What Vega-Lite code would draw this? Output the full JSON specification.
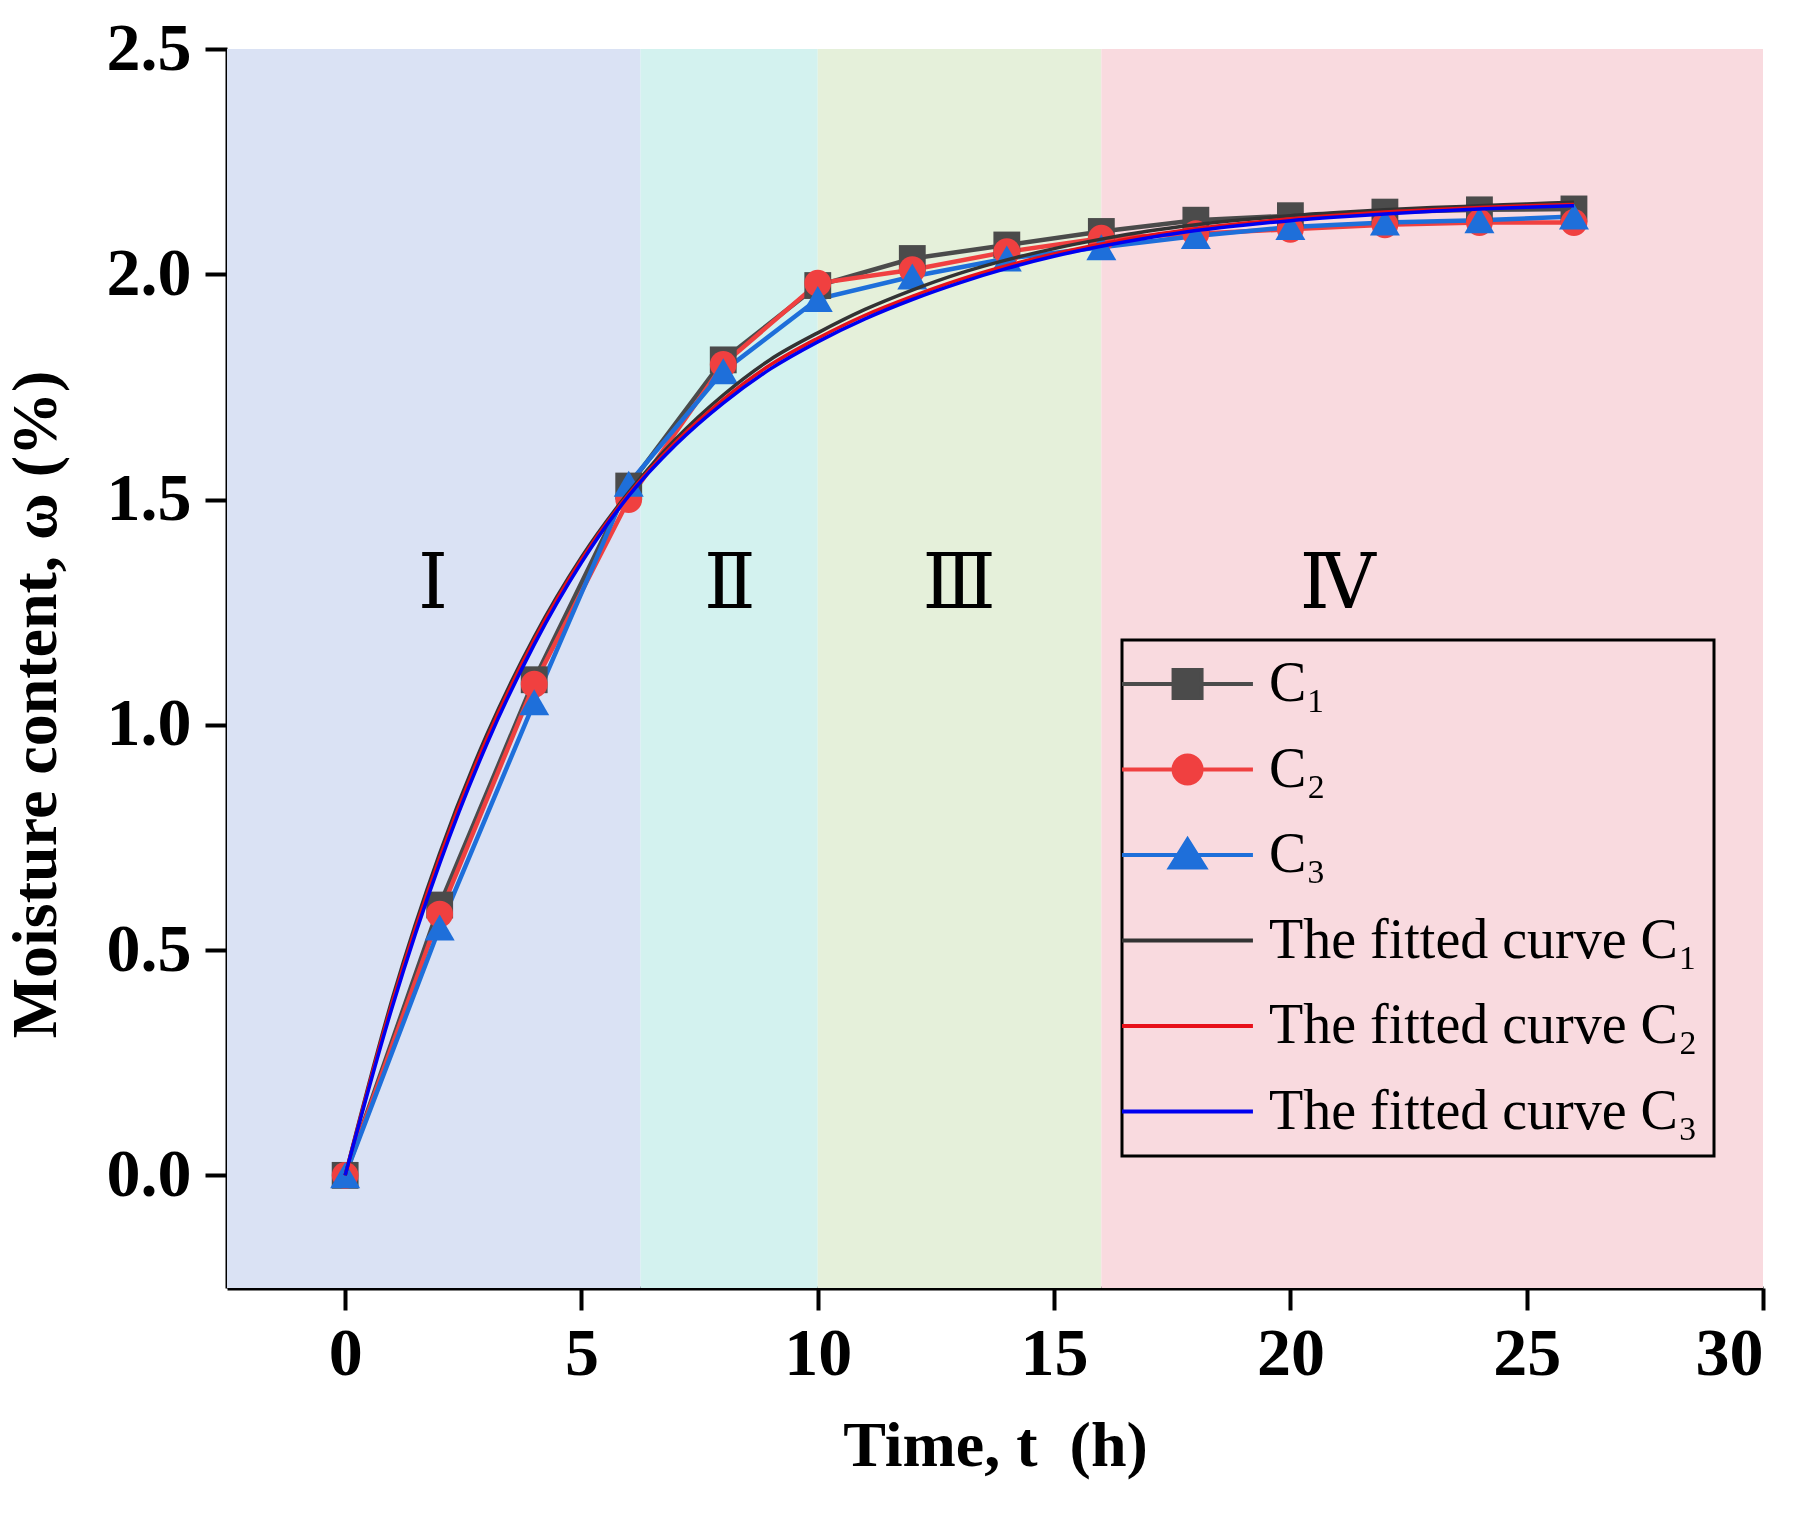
{
  "$schema": "https://vega.github.io/schema/vega-lite/v6.json",
  "width": 1536,
  "height": 1239,
  "autosize": {"type": "none"},
  "padding": {"left": 227, "top": 49, "right": 51, "bottom": 226},
  "background": "white",
  "config": {
    "view": {"stroke": null},
    "axis": {
      "grid": false,
      "domainColor": "black",
      "domainWidth": 4,
      "tickColor": "black",
      "tickWidth": 4,
      "tickSize": 22,
      "labelFont": "Liberation Serif",
      "labelFontWeight": "bold",
      "labelFontSize": 68,
      "labelColor": "black",
      "titleFont": "Liberation Serif",
      "titleFontWeight": "bold",
      "titleFontSize": 64,
      "titleColor": "black"
    },
    "legend": {"strokeWidth": 3}
  },
  "datasets": {
    "zones": [
      {"zone": "I", "start": -2.5, "end": 6.25},
      {"zone": "II", "start": 6.25, "end": 10},
      {"zone": "III", "start": 10, "end": 16},
      {"zone": "IV", "start": 16, "end": 30}
    ],
    "labels": [
      {"text": "Ⅰ", "t": 1.86, "w": 1.31},
      {"text": "Ⅱ", "t": 8.14, "w": 1.31},
      {"text": "Ⅲ", "t": 12.99, "w": 1.31},
      {"text": "Ⅳ", "t": 21.0, "w": 1.31}
    ],
    "measured": [
      {"series": "C₁", "t": 0, "w": 0},
      {"series": "C₁", "t": 2, "w": 0.60},
      {"series": "C₁", "t": 4, "w": 1.10},
      {"series": "C₁", "t": 6, "w": 1.53},
      {"series": "C₁", "t": 8, "w": 1.81},
      {"series": "C₁", "t": 10, "w": 1.975},
      {"series": "C₁", "t": 12, "w": 2.035},
      {"series": "C₁", "t": 14, "w": 2.065},
      {"series": "C₁", "t": 16, "w": 2.095},
      {"series": "C₁", "t": 18, "w": 2.12},
      {"series": "C₁", "t": 20, "w": 2.13},
      {"series": "C₁", "t": 22, "w": 2.138},
      {"series": "C₁", "t": 24, "w": 2.143},
      {"series": "C₁", "t": 26, "w": 2.145},
      {"series": "C₂", "t": 0, "w": 0},
      {"series": "C₂", "t": 2, "w": 0.58},
      {"series": "C₂", "t": 4, "w": 1.09},
      {"series": "C₂", "t": 6, "w": 1.50},
      {"series": "C₂", "t": 8, "w": 1.80},
      {"series": "C₂", "t": 10, "w": 1.98},
      {"series": "C₂", "t": 12, "w": 2.01},
      {"series": "C₂", "t": 14, "w": 2.05},
      {"series": "C₂", "t": 16, "w": 2.08},
      {"series": "C₂", "t": 18, "w": 2.09},
      {"series": "C₂", "t": 20, "w": 2.10},
      {"series": "C₂", "t": 22, "w": 2.11},
      {"series": "C₂", "t": 24, "w": 2.115},
      {"series": "C₂", "t": 26, "w": 2.115},
      {"series": "C₃", "t": 0, "w": 0},
      {"series": "C₃", "t": 2, "w": 0.55},
      {"series": "C₃", "t": 4, "w": 1.05},
      {"series": "C₃", "t": 6, "w": 1.535},
      {"series": "C₃", "t": 8, "w": 1.785},
      {"series": "C₃", "t": 10, "w": 1.945},
      {"series": "C₃", "t": 12, "w": 1.995},
      {"series": "C₃", "t": 14, "w": 2.035},
      {"series": "C₃", "t": 16, "w": 2.06},
      {"series": "C₃", "t": 18, "w": 2.085},
      {"series": "C₃", "t": 20, "w": 2.105},
      {"series": "C₃", "t": 22, "w": 2.115},
      {"series": "C₃", "t": 24, "w": 2.12},
      {"series": "C₃", "t": 26, "w": 2.128}
    ],
    "legendkeys": [
      {"series": "C₁"},
      {"series": "C₂"},
      {"series": "C₃"},
      {"series": "The fitted curve C₁"},
      {"series": "The fitted curve C₂"},
      {"series": "The fitted curve C₃"}
    ],
    "fitted": [
      {"series": "The fitted curve C₁", "t": 0, "w": 0},
      {"series": "The fitted curve C₁", "t": 1, "w": 0.393},
      {"series": "The fitted curve C₁", "t": 2, "w": 0.715},
      {"series": "The fitted curve C₁", "t": 3, "w": 0.979},
      {"series": "The fitted curve C₁", "t": 4, "w": 1.195},
      {"series": "The fitted curve C₁", "t": 5, "w": 1.372},
      {"series": "The fitted curve C₁", "t": 6, "w": 1.516},
      {"series": "The fitted curve C₁", "t": 7, "w": 1.635},
      {"series": "The fitted curve C₁", "t": 8, "w": 1.732},
      {"series": "The fitted curve C₁", "t": 9, "w": 1.811},
      {"series": "The fitted curve C₁", "t": 10, "w": 1.870},
      {"series": "The fitted curve C₁", "t": 11, "w": 1.922},
      {"series": "The fitted curve C₁", "t": 12, "w": 1.965},
      {"series": "The fitted curve C₁", "t": 13, "w": 2.002},
      {"series": "The fitted curve C₁", "t": 14, "w": 2.032},
      {"series": "The fitted curve C₁", "t": 15, "w": 2.057},
      {"series": "The fitted curve C₁", "t": 16, "w": 2.078},
      {"series": "The fitted curve C₁", "t": 17, "w": 2.096},
      {"series": "The fitted curve C₁", "t": 18, "w": 2.110},
      {"series": "The fitted curve C₁", "t": 19, "w": 2.121},
      {"series": "The fitted curve C₁", "t": 20, "w": 2.130},
      {"series": "The fitted curve C₁", "t": 21, "w": 2.137},
      {"series": "The fitted curve C₁", "t": 22, "w": 2.143},
      {"series": "The fitted curve C₁", "t": 23, "w": 2.148},
      {"series": "The fitted curve C₁", "t": 24, "w": 2.152},
      {"series": "The fitted curve C₁", "t": 25, "w": 2.156},
      {"series": "The fitted curve C₁", "t": 26, "w": 2.160},
      {"series": "The fitted curve C₂", "t": 0, "w": 0},
      {"series": "The fitted curve C₂", "t": 1, "w": 0.385},
      {"series": "The fitted curve C₂", "t": 2, "w": 0.705},
      {"series": "The fitted curve C₂", "t": 3, "w": 0.970},
      {"series": "The fitted curve C₂", "t": 4, "w": 1.188},
      {"series": "The fitted curve C₂", "t": 5, "w": 1.367},
      {"series": "The fitted curve C₂", "t": 6, "w": 1.512},
      {"series": "The fitted curve C₂", "t": 7, "w": 1.628},
      {"series": "The fitted curve C₂", "t": 8, "w": 1.722},
      {"series": "The fitted curve C₂", "t": 9, "w": 1.799},
      {"series": "The fitted curve C₂", "t": 10, "w": 1.858},
      {"series": "The fitted curve C₂", "t": 11, "w": 1.909},
      {"series": "The fitted curve C₂", "t": 12, "w": 1.951},
      {"series": "The fitted curve C₂", "t": 13, "w": 1.988},
      {"series": "The fitted curve C₂", "t": 14, "w": 2.019},
      {"series": "The fitted curve C₂", "t": 15, "w": 2.045},
      {"series": "The fitted curve C₂", "t": 16, "w": 2.067},
      {"series": "The fitted curve C₂", "t": 17, "w": 2.086},
      {"series": "The fitted curve C₂", "t": 18, "w": 2.101},
      {"series": "The fitted curve C₂", "t": 19, "w": 2.113},
      {"series": "The fitted curve C₂", "t": 20, "w": 2.123},
      {"series": "The fitted curve C₂", "t": 21, "w": 2.131},
      {"series": "The fitted curve C₂", "t": 22, "w": 2.138},
      {"series": "The fitted curve C₂", "t": 23, "w": 2.143},
      {"series": "The fitted curve C₂", "t": 24, "w": 2.148},
      {"series": "The fitted curve C₂", "t": 25, "w": 2.152},
      {"series": "The fitted curve C₂", "t": 26, "w": 2.155},
      {"series": "The fitted curve C₃", "t": 0, "w": 0},
      {"series": "The fitted curve C₃", "t": 1, "w": 0.375},
      {"series": "The fitted curve C₃", "t": 2, "w": 0.692},
      {"series": "The fitted curve C₃", "t": 3, "w": 0.958},
      {"series": "The fitted curve C₃", "t": 4, "w": 1.178},
      {"series": "The fitted curve C₃", "t": 5, "w": 1.360},
      {"series": "The fitted curve C₃", "t": 6, "w": 1.508},
      {"series": "The fitted curve C₃", "t": 7, "w": 1.622},
      {"series": "The fitted curve C₃", "t": 8, "w": 1.714},
      {"series": "The fitted curve C₃", "t": 9, "w": 1.790},
      {"series": "The fitted curve C₃", "t": 10, "w": 1.850},
      {"series": "The fitted curve C₃", "t": 11, "w": 1.901},
      {"series": "The fitted curve C₃", "t": 12, "w": 1.944},
      {"series": "The fitted curve C₃", "t": 13, "w": 1.981},
      {"series": "The fitted curve C₃", "t": 14, "w": 2.013},
      {"series": "The fitted curve C₃", "t": 15, "w": 2.040},
      {"series": "The fitted curve C₃", "t": 16, "w": 2.062},
      {"series": "The fitted curve C₃", "t": 17, "w": 2.081},
      {"series": "The fitted curve C₃", "t": 18, "w": 2.097},
      {"series": "The fitted curve C₃", "t": 19, "w": 2.109},
      {"series": "The fitted curve C₃", "t": 20, "w": 2.119},
      {"series": "The fitted curve C₃", "t": 21, "w": 2.127},
      {"series": "The fitted curve C₃", "t": 22, "w": 2.134},
      {"series": "The fitted curve C₃", "t": 23, "w": 2.140},
      {"series": "The fitted curve C₃", "t": 24, "w": 2.145},
      {"series": "The fitted curve C₃", "t": 25, "w": 2.149},
      {"series": "The fitted curve C₃", "t": 26, "w": 2.152}
    ]
  },
  "layer": [
    {
      "data": {"name": "zones"},
      "mark": {"type": "rect"},
      "encoding": {
        "x": {
          "field": "start",
          "type": "quantitative",
          "scale": {"domain": [-2.5, 30], "nice": false, "zero": false},
          "axis": {"values": [0, 5, 10, 15, 20, 25, 30], "title": "Time, t\u00a0\u00a0(h)", "labelPadding": 10, "titlePadding": 26, "format": "d"}
        },
        "x2": {"field": "end"},
        "fill": {
          "field": "zone",
          "type": "nominal",
          "scale": {"domain": ["I", "II", "III", "IV"], "range": ["#DAE2F4", "#D3F2EF", "#E5F0DA", "#F9DADF"]},
          "legend": null
        }
      }
    },
    {
      "data": {"name": "labels"},
      "mark": {"type": "text", "font": "DejaVu Serif", "fontSize": 76, "color": "black", "align": "center", "baseline": "middle"},
      "encoding": {
        "x": {"field": "t", "type": "quantitative"},
        "y": {
          "field": "w",
          "type": "quantitative",
          "scale": {"domain": [-0.25, 2.5], "nice": false, "zero": false},
          "axis": {"values": [0, 0.5, 1, 1.5, 2, 2.5], "format": ".1f", "title": "Moisture content, ω (%)", "labelPadding": 14, "titlePadding": 38, "titleY": 655}
        },
        "text": {"field": "text"}
      }
    },
    {
      "data": {"name": "measured"},
      "mark": {"type": "line", "strokeWidth": 4.5},
      "encoding": {
        "x": {"field": "t", "type": "quantitative"},
        "y": {"field": "w", "type": "quantitative"},
        "stroke": {
          "field": "series",
          "type": "nominal",
          "scale": {
            "domain": ["The fitted curve C₁", "The fitted curve C₂", "The fitted curve C₃", "C₁", "C₂", "C₃"],
            "range": ["#333333", "#E8101A", "#0000F0", "#4B4B4B", "#F04040", "#1E6FDA"]
          },
          "legend": null
        }
      }
    },
    {
      "data": {"name": "measured"},
      "transform": [{"filter": "datum.series == 'C₁'"}],
      "mark": {"type": "point", "shape": "square", "filled": true, "size": 720, "color": "#4B4B4B", "opacity": 1},
      "encoding": {
        "x": {"field": "t", "type": "quantitative"},
        "y": {"field": "w", "type": "quantitative"}
      }
    },
    {
      "data": {"name": "measured"},
      "transform": [{"filter": "datum.series == 'C₂'"}],
      "mark": {"type": "point", "shape": "circle", "filled": true, "size": 720, "color": "#F04040", "opacity": 1},
      "encoding": {
        "x": {"field": "t", "type": "quantitative"},
        "y": {"field": "w", "type": "quantitative"}
      }
    },
    {
      "data": {"name": "measured"},
      "transform": [{"filter": "datum.series == 'C₃'"}],
      "mark": {"type": "point", "shape": "triangle-up", "filled": true, "size": 900, "color": "#1E6FDA", "opacity": 1},
      "encoding": {
        "x": {"field": "t", "type": "quantitative"},
        "y": {"field": "w", "type": "quantitative"}
      }
    },
    {
      "data": {"name": "fitted"},
      "mark": {"type": "line", "strokeWidth": 3.5, "interpolate": "monotone"},
      "encoding": {
        "x": {"field": "t", "type": "quantitative"},
        "y": {"field": "w", "type": "quantitative"},
        "stroke": {"field": "series", "type": "nominal", "legend": null}
      }
    },
    {
      "data": {"name": "legendkeys"},
      "mark": {"type": "point", "filled": true, "size": 784, "opacity": 0},
      "encoding": {
        "color": {
          "field": "series",
          "type": "nominal",
          "scale": {
            "domain": ["C₁", "C₂", "C₃", "The fitted curve C₁", "The fitted curve C₂", "The fitted curve C₃"],
            "range": ["#4B4B4B", "#F04040", "#1E6FDA", "#333333", "#E8101A", "#0000F0"]
          },
          "legend": {
            "title": null,
            "orient": "none",
            "legendX": 895,
            "legendY": 591,
            "padding": 16,
            "strokeColor": "black",
            "rowPadding": 29.5,
            "symbolSize": 784,
            "symbolStrokeWidth": 4,
            "symbolOpacity": 1,
            "labelOffset": 75,
            "labelFont": "Liberation Serif",
            "labelFontSize": 56,
            "labelColor": "black",
            "labelLimit": 2000,
            "encode": {
              "symbols": {
                "update": {
                  "fill": {"scale": "color", "field": "value"},
                  "stroke": {"scale": "color", "field": "value"},
                  "strokeWidth": {"value": 4},
                  "opacity": {"value": 1}
                }
              }
            }
          }
        },
        "shape": {
          "field": "series",
          "type": "nominal",
          "scale": {
            "domain": ["C₁", "C₂", "C₃", "The fitted curve C₁", "The fitted curve C₂", "The fitted curve C₃"],
            "range": [
              "M-3.14,0H6.21M0.54,-1H2.54V1H0.54Z",
              "M-3.14,0H6.21M2.54,0A1,1,0,1,1,0.54,0A1,1,0,1,1,2.54,0Z",
              "M-3.14,0H6.21M1.54,-1.1L2.79,0.9H0.29Z",
              "M-3.14,0H6.21",
              "M-3.14,0H6.21",
              "M-3.14,0H6.21"
            ]
          }
        }
      }
    }
  ]
}
